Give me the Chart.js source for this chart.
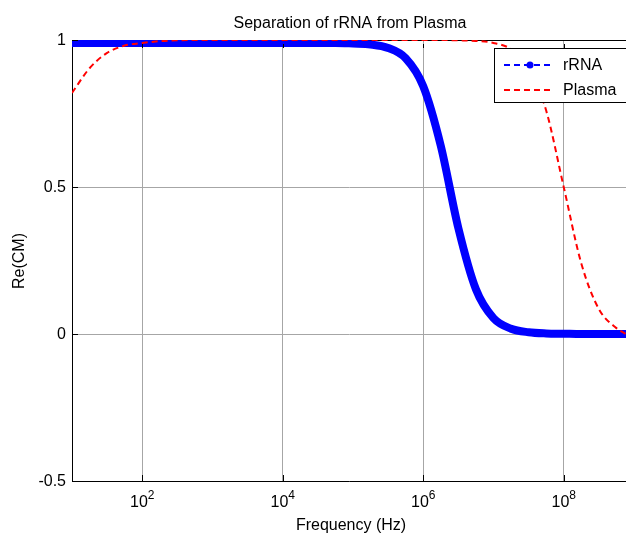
<!DOCTYPE html>
<html lang="en">
<head>
<meta charset="utf-8">
<title>Separation of rRNA from Plasma</title>
<script src="https://cdn.jsdelivr.net/npm/chart.js@4.4.1/dist/chart.umd.min.js"></script>
<style>
  body { margin: 0; background: #fff; }
</style>
</head>
<body>
<canvas id="chartCM" width="626" height="535"></canvas>
<script>
// frequency exponents (Hz = 10^e), read every quarter decade
const exposants = [1, 1.25, 1.5, 1.75, 2, 2.25, 2.5, 2.75, 3, 3.25, 3.5, 3.75, 4, 4.25, 4.5, 4.75,
                   5, 5.25, 5.5, 5.75, 6, 6.25, 6.5, 6.75, 7, 7.25, 7.5, 7.75, 8, 8.25, 8.5, 8.75, 8.885];

// Re(CM)
const rRNA = [0.99, 0.99, 0.99, 0.99, 0.99, 0.99, 0.99, 0.99, 0.99, 0.99, 0.99, 0.99, 0.99, 0.99, 0.99, 0.99,
              0.988, 0.985, 0.973, 0.938, 0.843, 0.64, 0.36, 0.152, 0.054, 0.018, 0.006, 0.002, 0.001, 0, 0, 0, 0];
const plasma = [0.82, 0.904, 0.956, 0.981, 0.99, 0.996, 0.999, 1, 1, 1, 1, 1, 1, 1, 1, 1,
                1, 1, 1, 1, 1, 1, 0.999, 0.997, 0.99, 0.969, 0.909, 0.76, 0.5, 0.24, 0.085, 0.02, 0];

const xTicks = [1e2, 1e4, 1e6, 1e8];
const yTicks = [-0.5, 0, 0.5, 1];

const police = '"Liberation Sans", Arial, Helvetica, sans-serif';

function points(vals) {
  return exposants.map(function (e, i) { return { x: Math.pow(10, e), y: vals[i] }; });
}

// texts, inward ticks, top border and legend, MATLAB style
const habillage = {
  id: 'habillage',
  beforeDatasetsDraw(chart) {
    // top border, under the curves
    const ctx = chart.ctx;
    const a = chart.chartArea;
    ctx.save();
    ctx.strokeStyle = '#000';
    ctx.lineWidth = 1;
    ctx.beginPath();
    ctx.moveTo(a.left, a.top + 0.5);
    ctx.lineTo(a.right, a.top + 0.5);
    ctx.stroke();
    ctx.restore();
  },
  afterDraw(chart) {
    const ctx = chart.ctx;
    const a = chart.chartArea;
    const sx = chart.scales.x, sy = chart.scales.y;
    ctx.save();
    ctx.strokeStyle = '#000';
    ctx.lineWidth = 1;

    // inward ticks
    ctx.beginPath();
    xTicks.forEach(function (v) {
      const px = Math.round(sx.getPixelForValue(v)) + 0.5;
      ctx.moveTo(px, a.bottom); ctx.lineTo(px, a.bottom - 6);
      ctx.moveTo(px, a.top + 4); ctx.lineTo(px, a.top + 8);
    });
    yTicks.forEach(function (v) {
      const py = Math.round(sy.getPixelForValue(v)) + 0.5;
      ctx.moveTo(a.left, py); ctx.lineTo(a.left + 6, py);
    });
    ctx.stroke();

    ctx.fillStyle = '#000';

    // y tick labels
    ctx.font = '16px ' + police;
    ctx.textAlign = 'right';
    ctx.textBaseline = 'middle';
    yTicks.forEach(function (v) {
      ctx.fillText(String(v), a.left - 6, sy.getPixelForValue(v) + 1);
    });

    // x tick labels 10^n
    ctx.textAlign = 'left';
    ctx.textBaseline = 'alphabetic';
    xTicks.forEach(function (v) {
      const px = sx.getPixelForValue(v);
      const n = String(Math.round(Math.log10(v)));
      ctx.font = '16px ' + police;
      const w1 = ctx.measureText('10').width;
      ctx.font = '12px ' + police;
      const w2 = ctx.measureText(n).width;
      const x0 = px - (w1 + w2) / 2;
      ctx.font = '16px ' + police;
      ctx.fillText('10', x0, 507);
      ctx.font = '12px ' + police;
      ctx.fillText(n, x0 + w1, 499);
    });

    // title and axis titles
    ctx.font = '16px ' + police;
    ctx.textAlign = 'center';
    ctx.fillText('Separation of rRNA from Plasma', 350, 28);
    ctx.fillText('Frequency (Hz)', 351, 530);
    ctx.save();
    ctx.translate(20, 261);
    ctx.rotate(-Math.PI / 2);
    ctx.textBaseline = 'middle';
    ctx.fillText('Re(CM)', 0, 0);
    ctx.restore();

    // legend
    ctx.fillStyle = '#fff';
    ctx.fillRect(494.5, 48.5, 140, 54);
    ctx.strokeRect(494.5, 48.5, 140, 54);
    ctx.lineWidth = 2;
    ctx.setLineDash([6, 4]);
    ctx.strokeStyle = '#0000ff';
    ctx.beginPath(); ctx.moveTo(504, 65); ctx.lineTo(554, 65); ctx.stroke();
    ctx.strokeStyle = '#ff0000';
    ctx.beginPath(); ctx.moveTo(504, 90); ctx.lineTo(554, 90); ctx.stroke();
    ctx.setLineDash([]);
    ctx.fillStyle = '#0000ff';
    ctx.beginPath(); ctx.arc(530, 65, 3.5, 0, Math.PI * 2); ctx.fill();
    ctx.fillStyle = '#000';
    ctx.textAlign = 'left';
    ctx.textBaseline = 'middle';
    ctx.font = '16px ' + police;
    ctx.fillText('rRNA', 563, 66);
    ctx.fillText('Plasma', 563, 91);

    ctx.restore();
  }
};

const ctx = document.getElementById('chartCM').getContext('2d');
const graphe = new Chart(ctx, {
  type: 'line',
  data: {
    datasets: [{
      label: 'rRNA',
      data: points(rRNA),
      borderColor: '#0000ff',
      backgroundColor: '#0000ff',
      borderWidth: 8,
      borderCapStyle: 'round',
      borderJoinStyle: 'round',
      pointRadius: 0,
      cubicInterpolationMode: 'monotone',
      order: 1
    }, {
      label: 'Plasma',
      data: points(plasma),
      borderColor: '#ff0000',
      backgroundColor: '#ff0000',
      borderWidth: 2,
      borderDash: [6, 4],
      pointRadius: 0,
      cubicInterpolationMode: 'monotone',
      order: 0
    }]
  },
  options: {
    responsive: false,
    animation: false,
    events: [],
    layout: { padding: { top: 40, right: 0, left: 0, bottom: 0 } },
    plugins: {
      legend: { display: false },
      title: { display: false },
      tooltip: { enabled: false }
    },
    scales: {
      x: {
        type: 'logarithmic',
        min: 10,
        max: 7.7e8,
        afterBuildTicks: function (s) { s.ticks = xTicks.map(function (v) { return { value: v }; }); },
        afterFit: function (s) { s.height = 54; },
        ticks: { display: false },
        grid: { color: '#a6a6a6', lineWidth: 1, drawTicks: false },
        border: { color: '#000', width: 1 }
      },
      y: {
        min: -0.5,
        max: 1,
        afterBuildTicks: function (s) { s.ticks = yTicks.map(function (v) { return { value: v }; }); },
        afterFit: function (s) { s.width = 72; },
        ticks: { display: false },
        grid: { color: '#a6a6a6', lineWidth: 1, drawTicks: false },
        border: { color: '#000', width: 1 }
      }
    }
  },
  plugins: [habillage]
});
</script>
</body>
</html>
